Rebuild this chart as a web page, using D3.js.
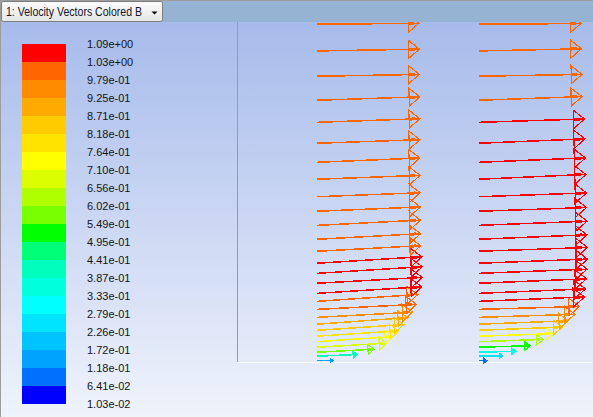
<!DOCTYPE html>
<html><head><meta charset="utf-8">
<script src="https://cdn.jsdelivr.net/npm/d3@7/dist/d3.min.js"></script>
<style>html,body{margin:0;padding:0;overflow:hidden;background:#fff}</style>
</head><body>
<script>
// ---------------- data ----------------
const titleText = "1: Velocity Vectors Colored B";
const legendLabels = ["1.03e-02","6.41e-02","1.18e-01","1.72e-01","2.26e-01","2.79e-01","3.33e-01","3.87e-01","4.41e-01","4.95e-01","5.49e-01","6.02e-01","6.56e-01","7.10e-01","7.64e-01","8.18e-01","8.71e-01","9.25e-01","9.79e-01","1.03e+00","1.09e+00"];
const bandColors = ["#0000ff","#0070ff","#00a4ff","#00c4ff","#00e4ff","#00ffff","#00ffdc","#00ffbc","#00ff78","#00ff00","#78ff00","#b0ff00","#dcff00","#ffff00","#ffe400","#ffcc00","#ffaa00","#ff8c00","#ff6600","#ff0000"];
const vMin = 0.0103, vMax = 1.09;
// wall-normal position of each vector row (mm from wall), bottom to top
const rowY = [0.8,3.6,6.1,9.2,12.7,16.1,19.8,23.6,27.9,32.9,37.9,42.9,49.2,55.4,61.7,69.2,76.7,85.4,94.2,103.3,114.2,124.8,136.7,149.8,163.6,178.6,194.4,211.1];
// streamwise stations (mm)
const stations = [50, 151];
// velocity magnitude (m/s), bottom to top
const mag1 = [0.16,0.40,0.565,0.69,0.755,0.81,0.86,0.90,0.947,0.987,1.0,1.04,1.045,1.045,1.04,1.028,1.027,1.026,1.025,1.024,1.022,1.02,1.02,1.02,1.02,1.015,1.015,1.01];
const mag2 = [0.083,0.24,0.37,0.51,0.64,0.74,0.83,0.89,0.955,1.0,1.05,1.06,1.07,1.075,1.08,1.08,1.075,1.075,1.07,1.07,1.065,1.06,1.055,1.05,1.025,1.025,1.02,1.015];
// flow angle (deg, upward), bottom to top
const ang1 = [0.8,2.5,3.0,3.4,3.8,3.8,3.8,4.2,3.1,2.9,3.9,3.6,3.2,3.6,3.6,3.1,3.1,2.9,2.4,2.2,2.2,2.4,2.0,2.0,1.9,1.0,1.0,0.5];
const ang2 = [0,1.0,1.5,1.8,2.0,2.0,2.2,2.2,1.8,1.6,2.4,2.4,2.4,2.2,2.2,2.0,2.4,2.2,2.0,2.0,2.6,2.4,2.4,1.8,2.0,1.0,1.2,0.4];

// ---------------- drawing ----------------
const W = 593, H = 417;
const svg = d3.select("body").append("svg").attr("width", W).attr("height", H);
const defs = svg.append("defs");
const bg = defs.append("linearGradient").attr("id","bg").attr("x1",0).attr("y1",0).attr("x2",0).attr("y2",1);
bg.append("stop").attr("offset","0%").attr("stop-color","#a3b8ea");
bg.append("stop").attr("offset","100%").attr("stop-color","#eff3fb");
const bx = defs.append("linearGradient").attr("id","box").attr("x1",0).attr("y1",0).attr("x2",0).attr("y2",1);
bx.append("stop").attr("offset","0%").attr("stop-color","#fbfbfb");
bx.append("stop").attr("offset","100%").attr("stop-color","#e6e6e6");

svg.append("rect").attr("x",0).attr("y",0).attr("width",W).attr("height",H).attr("fill","url(#bg)");

const x = d3.scaleLinear().domain([0, 222.5]).range([237, 593]);
const y = d3.scaleLinear().domain([0, 212.5]).range([362, 22]);
const color = d3.scaleQuantize().domain([vMin, vMax]).range(bandColors);
const vecScale = 63.1; // mm per (m/s)

// geometry boundaries
svg.append("line").attr("x1", x(0)+0.5).attr("x2", x(0)+0.5).attr("y1", y(212.5)).attr("y2", y(0))
  .attr("stroke","#8e8eff").attr("stroke-width",1);
svg.append("line").attr("x1", x(0)).attr("x2", x(222.5)).attr("y1", y(0)+0.5).attr("y2", y(0)+0.5)
  .attr("stroke","#ffffff").attr("stroke-width",1);

// vectors
const gv = svg.append("g").attr("shape-rendering","crispEdges").attr("fill","none");
const cols = [{s: stations[0], m: mag1, a: ang1}, {s: stations[1], m: mag2, a: ang2}];
cols.forEach(c => {
  rowY.forEach((ry, i) => {
    const mg = c.m[i], ar = c.a[i] * Math.PI / 180;
    const x0 = x(c.s), y0 = y(ry);
    const x1 = x(c.s + mg * vecScale * Math.cos(ar));
    const y1 = y(ry + mg * vecScale * Math.sin(ar));
    const L = Math.hypot(x1 - x0, y1 - y0);
    const ux = (x1 - x0) / L, uy = (y1 - y0) / L;
    const px = -uy, py = ux;
    const hl = Math.max(3, 0.105 * L), hw = Math.max(2.2, 0.087 * L);
    const bX = x1 - ux * hl, bY = y1 - uy * hl;
    const col = color(mg);
    gv.append("line").attr("x1", x0).attr("y1", y0).attr("x2", x1).attr("y2", y1)
      .attr("stroke", col).attr("stroke-width", 1.5);
    if (L > 30) {
      gv.append("line").attr("x1", bX).attr("y1", bY).attr("x2", bX + ux * hl * 0.55).attr("y2", bY + uy * hl * 0.55)
        .attr("stroke", col).attr("stroke-width", 3);
    }
    gv.append("path")
      .attr("d", `M${bX + px*hw},${bY + py*hw}L${x1},${y1}L${bX - px*hw},${bY - py*hw}Z`)
      .attr("stroke", col).attr("stroke-width", 1.2);
  });
});

// top bar
svg.append("rect").attr("x",0).attr("y",0).attr("width",W).attr("height",22).attr("fill","#97b3d3");
svg.append("line").attr("x1",0).attr("x2",W).attr("y1",0.5).attr("y2",0.5).attr("stroke","#9c9c9c");
svg.append("line").attr("x1",0.5).attr("x2",0.5).attr("y1",0).attr("y2",H).attr("stroke","#9c9c9c");

// dropdown
svg.append("rect").attr("x",1.5).attr("y",1.5).attr("width",161).attr("height",20).attr("rx",2)
  .attr("fill","url(#box)").attr("stroke","#7d7d7d");
svg.append("text").attr("x",6).attr("y",15.5).text(titleText)
  .attr("font-family","'Liberation Sans', Arial, sans-serif").attr("font-size","12px")
  .attr("fill","#14142a").attr("textLength",136).attr("lengthAdjust","spacingAndGlyphs");
svg.append("path").attr("d","M151.5,11.5L157.5,11.5L154.5,14.5Z").attr("fill","#000");

// legend
const edges = [vMin, ...color.thresholds(), vMax];
const ly = d3.scaleLinear().domain([vMin, vMax]).range([404, 44]);
const gl = svg.append("g").attr("shape-rendering","crispEdges");
bandColors.forEach((c, k) => {
  gl.append("rect").attr("x",22).attr("width",44)
    .attr("y", Math.round(ly(edges[k+1]))).attr("height", Math.round(ly(edges[k])) - Math.round(ly(edges[k+1])))
    .attr("fill", c);
});
legendLabels.forEach((t, k) => {
  svg.append("text").attr("x",87).attr("y", ly(edges[k]) + 4).text(t)
    .attr("font-family","'Liberation Sans', Arial, sans-serif").attr("font-size","11px").attr("fill","#141414");
});
</script>
</body></html>
